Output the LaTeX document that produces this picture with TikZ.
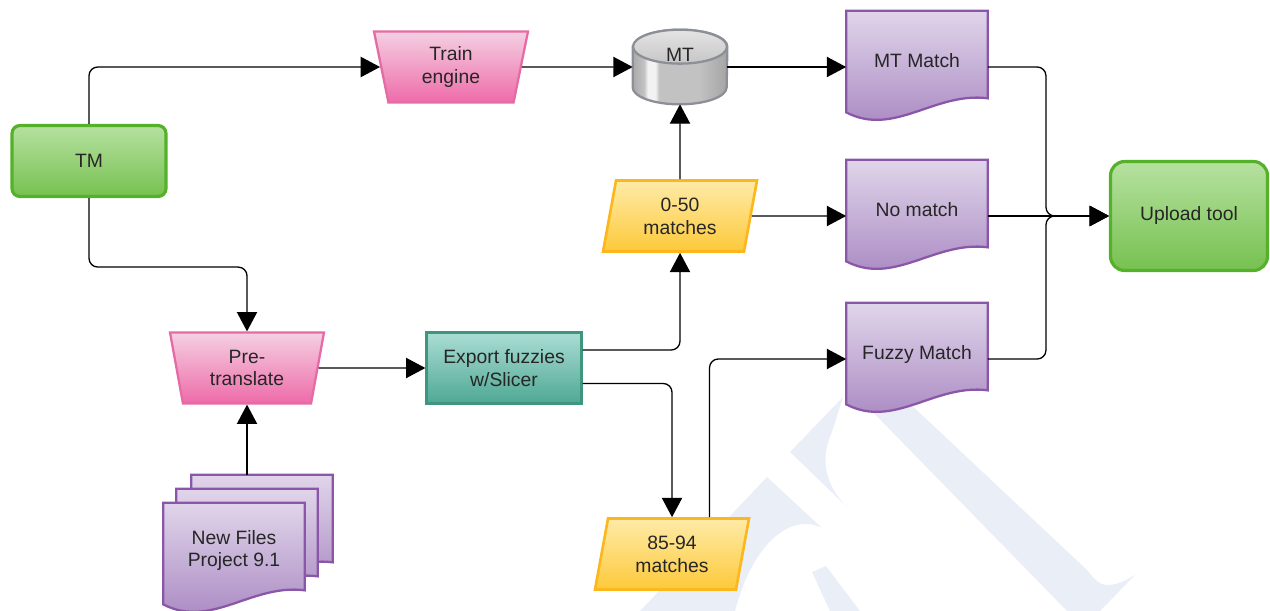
\documentclass[tikz,border=0pt]{standalone}
\usepackage{fontspec}
\setmainfont{Liberation Sans}
\usetikzlibrary{arrows.meta,calc,shapes.geometric,backgrounds,positioning}

\definecolor{termtop}{HTML}{B6E1A0}
\definecolor{termbot}{HTML}{76C150}
\definecolor{termline}{HTML}{55B02A}
\definecolor{mantop}{HTML}{F4D0E2}
\definecolor{manbot}{HTML}{EE6BA9}
\definecolor{manline}{HTML}{E56BA5}
\definecolor{doctop}{HTML}{E0D5EA}
\definecolor{docbot}{HTML}{A583BF}
\definecolor{docline}{HTML}{8A57A8}
\definecolor{datatop}{HTML}{FEEBA8}
\definecolor{databot}{HTML}{FDC93A}
\definecolor{dataline}{HTML}{FBB71C}
\definecolor{proctop}{HTML}{AADDD4}
\definecolor{procbot}{HTML}{4FA894}
\definecolor{procline}{HTML}{3E967F}
\definecolor{cylline}{HTML}{8C9096}
\definecolor{cylA}{HTML}{A9A9A9}
\definecolor{cylB}{HTML}{C2C2C2}
\definecolor{cylC}{HTML}{F2F2F2}
\definecolor{cylD}{HTML}{A4A4A4}
\definecolor{cyltop}{HTML}{E4E4E4}
\definecolor{cyltopb}{HTML}{C6C6C6}
\definecolor{wmark}{HTML}{E9EEF7}

% body of the MT drum, light stripe on the left
\pgfdeclarehorizontalshading{mtbody}{100bp}{color(0bp)=(cylA); color(25bp)=(cylA);
  color(31bp)=(cylB); color(33bp)=(cylC); color(37bp)=(cylC); color(39bp)=(cylB);
  color(60bp)=(cylB); color(75bp)=(cylD); color(100bp)=(cylD)}

% document outline with a wavy bottom, taken from a node's corners
\newcommand{\docoutline}[1]{%
  (#1.north west) -- (#1.north east) -- ($(#1.south east)+(0,-25)$)
  .. controls ($(#1.south east)+(-53,-32)$) and ($(#1.south west)+(48,14)$)
  .. ($(#1.south west)+(0,-11)$) -- cycle}

\begin{document}
\begin{tikzpicture}[x=0.02cm, y=-0.02cm, >={Triangle[length=11pt,width=11.5pt]},
  font=\fontsize{11}{13}\selectfont, text=black!85,
  flow/.style={->, line width=0.75pt, rounded corners=5pt},
  termbox/.style={rectangle, rounded corners=4.5pt, draw=termline, line width=1.8pt,
    top color=termtop, bottom color=termbot, minimum width=3.08cm,
    minimum height=1.42cm, align=center},
  manualop/.style={trapezium, shape border rotate=180, trapezium angle=72,
    trapezium stretches body, draw=manline, line width=1.3pt, top color=mantop,
    bottom color=manbot, minimum width=3.08cm, minimum height=1.42cm,
    align=center, inner sep=1pt},
  datashape/.style={trapezium, trapezium left angle=72, trapezium right angle=108,
    trapezium stretches body, draw=dataline, line width=1.5pt, top color=datatop,
    bottom color=databot, minimum width=3.08cm, minimum height=1.42cm,
    align=center, inner sep=1pt},
  procbox/.style={rectangle, draw=procline, line width=1.3pt, top color=proctop,
    bottom color=procbot, minimum width=3.1cm, minimum height=1.42cm, align=center},
  docbox/.style={rectangle, minimum width=2.82cm, minimum height=2.24cm,
    inner sep=0pt, text depth=7pt, align=center},
  docfill/.style={draw=docline, line width=1.3pt, top color=doctop,
    bottom color=docbot},
  cylfill/.style={draw=cylline, line width=1.3pt}]

\useasboundingbox (0,0) rectangle (1270,611);

% =========================================================
% nodes
% =========================================================
\node[termbox] (tm) at (89,161) {TM};
\node[manualop] (train) at (451,67) {Train\\engine};
\node[rectangle, minimum width=1.88cm, minimum height=1.48cm, inner sep=0pt,
  text depth=13.5pt] (mt) at (680,67) {MT};
\node[docbox] (mtm) at (917,67) {MT Match};
\node[docbox] (nomatch) at (917,216) {No match};
\node[docbox] (fuzzy) at (917,359) {Fuzzy Match};
\node[termbox, rounded corners=8pt, minimum width=3.14cm, minimum height=2.18cm]
  (upload) at (1189,216) {Upload tool};

\node[datashape] (m050) at (680,216) {0-50\\matches};
\node[procbox] (export) at (504,368) {Export fuzzies\\w/Slicer};
\node[manualop] (pretrans) at (247,368) {Pre-\\translate};
\node[datashape] (m8594) at (672,554) {85-94\\matches};

% stacked new files
\node[docbox] (stack3) at (262,531) {};
\node[docbox] (stack2) at (247,545) {};
\node[docbox, text depth=12pt] (newfiles) at (234,559) {New Files\\Project 9.1};

% =========================================================
% shapes behind the texts
% =========================================================
\begin{scope}[on background layer]
  % watermark
  \fill[wmark] (861,400) -- (906,400) -- (1087,570)
    .. controls (1095,580) and (1100,585) .. (1107,585)
    .. controls (1118,585) and (1126,580) .. (1135,575) -- (1100,611) -- (1067,611) -- cycle;
  \fill[wmark] (843,397) -- (790,452) -- (847,507)
    .. controls (828,488) and (818,462) .. (832,432) -- cycle;
  \fill[wmark] (767,477) -- (822,528)
    .. controls (790,512) and (752,545) .. (735,611) -- (640,611) -- cycle;
  \fill[wmark] (812,572) -- (826,566) -- (860,611) -- (830,611) -- cycle;

  % documents
  \foreach \d in {mtm, nomatch, fuzzy, stack3, stack2, newfiles}
    \path[docfill] \docoutline{\d};

  % MT drum
  \path[cylfill, shading=mtbody] ($(mt.north west)+(0,17)$) -- ($(mt.south west)+(0,-17)$)
    arc[start angle=180, end angle=360, x radius=0.94cm, y radius=0.34cm]
    -- ($(mt.north east)+(0,17)$)
    arc[start angle=0, end angle=180, x radius=0.94cm, y radius=0.34cm] -- cycle;
  \path[cylfill, top color=cyltop, bottom color=cyltopb]
    ($(mt.north)+(0,17)$) ellipse[x radius=0.94cm, y radius=0.34cm];
\end{scope}

% =========================================================
% connectors
% =========================================================
\draw[flow] (tm.north) |- (train.west);
\draw[flow] (train.east) -- (mt.west);
\draw[flow] (mt.east) -- (mtm.west);
\draw[flow] (tm.south) -- ++(0,69) -| (pretrans.north);
\draw[flow] (stack3.north -| pretrans.south) -- (pretrans.south);
\draw[flow] (pretrans.east) -- (export.west);
\draw[flow] ([yshift=0.36cm]export.east) -| (m050.south);
\draw[flow] ([yshift=-0.31cm]export.east) -| (m8594.north);
\draw[flow] ([xshift=0.75cm]m8594.north) |- (fuzzy.west);
\draw[flow] (m050.north) -- (mt.south);
\draw[flow] (m050.east) -- (nomatch.west);

\coordinate (merge) at ($(nomatch.east)!0.48!(upload.west)$);
\draw[flow] (mtm.east) -| (merge) -- (upload.west);
\draw[flow] (fuzzy.east) -| (merge) -- (upload.west);
\draw[flow] (nomatch.east) -- (upload.west);

\end{tikzpicture}
\end{document}
